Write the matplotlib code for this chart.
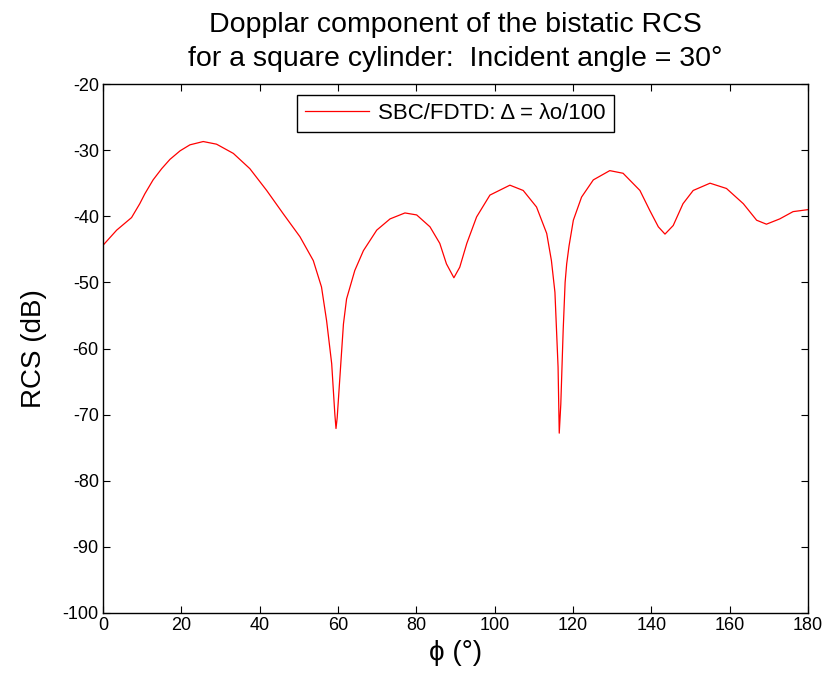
import matplotlib
matplotlib.use("Agg")
import matplotlib.pyplot as plt
import numpy as np

plt.rcParams['font.family'] = ['Liberation Sans', 'DejaVu Sans']
plt.rcParams['axes.unicode_minus'] = False

# bistatic angle (deg) and doppler RCS (dB)
phi = [0, 3.5, 7.3, 9.4, 10.7, 12.8, 15.0, 17.1, 19.7, 22.2, 25.6, 29.0, 33.3,
       37.5, 41.8, 46.0, 50.3, 53.7, 55.8, 57.1, 58.4, 59.2, 59.5, 59.8, 60.5,
       61.4, 62.2, 64.3, 66.5, 69.9, 73.3, 77.1, 80.1, 83.5, 86.0, 87.7, 89.6,
       91.1, 92.9, 95.4, 98.8, 103.9, 107.3, 110.7, 113.3, 114.5, 115.4, 116.2,
       116.5, 116.9, 117.5, 118.0, 118.4, 119.0, 120.1, 122.2, 125.2, 129.4,
       132.8, 137.1, 139.6, 141.8, 143.5, 145.6, 148.1, 150.7, 155.0, 159.2,
       163.5, 166.9, 169.4, 172.8, 176.2, 180]
rcs = [-44.4, -42.1, -40.2, -38.1, -36.6, -34.5, -32.8, -31.4, -30.1, -29.2,
       -28.7, -29.1, -30.5, -32.8, -36.1, -39.6, -43.1, -46.7, -50.7, -55.8,
       -62.3, -69.9, -72.1, -70.5, -64.3, -56.3, -52.5, -48.2, -45.2, -42.1,
       -40.4, -39.5, -39.8, -41.6, -44.1, -47.2, -49.3, -47.7, -44.1, -40.1,
       -36.8, -35.3, -36.1, -38.6, -42.6, -46.7, -51.5, -62.8, -72.8, -68.4,
       -57.3, -50.0, -47.2, -44.5, -40.6, -37.1, -34.5, -33.1, -33.5, -36.1,
       -39.1, -41.6, -42.7, -41.4, -38.1, -36.1, -35.0, -35.8, -38.1, -40.6,
       -41.2, -40.4, -39.3, -39.0]

xticks = np.arange(0, 181, 20)
yticks = np.arange(-100, -19, 10)

fig = plt.figure(figsize=(8.29, 6.83), dpi=100)
ax = fig.add_axes([0.1242, 0.1025, 0.8504, 0.7745])

ax.plot(phi, rcs, color='#ff0000', lw=0.9,
        label='SBC/FDTD: \u0394 = \u03bb\u03bf/100')

ax.set_xlim(0, 180)
ax.set_ylim(-100, -20)
ax.set_xticks(xticks)
ax.set_yticks(yticks)
ax.tick_params(direction='in', top=True, right=True, length=5, width=0.8,
               labelsize=13, pad=3)
for s in ax.spines.values():
    s.set_linewidth(1.0)

ax.set_xlabel('\u03d5 (\u00b0)', fontsize=20, labelpad=4)
ax.set_ylabel('RCS (dB)', fontsize=20, labelpad=11)
ax.set_title('Dopplar component of the bistatic RCS\n'
             'for a square cylinder:  Incident angle = 30\u00b0',
             fontsize=20.5, pad=13, linespacing=1.38)

leg = ax.legend(loc='upper center', fontsize=16, fancybox=False,
                edgecolor='black', framealpha=1, handlelength=2.9,
                handletextpad=0.4, borderaxespad=0.5, borderpad=0.35)
leg.get_frame().set_linewidth(1.0)

fig.savefig('out.png', dpi=100)
